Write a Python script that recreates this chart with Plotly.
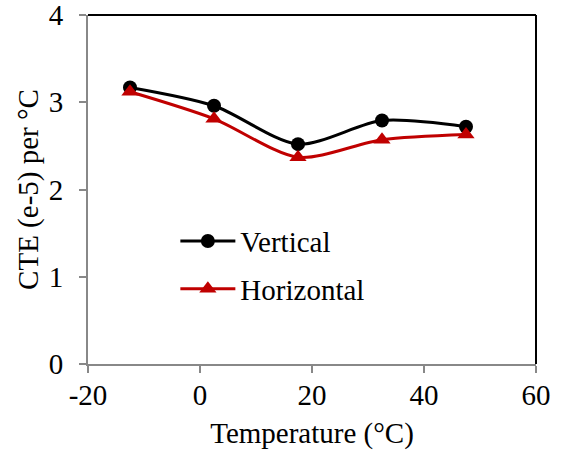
import plotly.graph_objects as go

temps = [-12.5, 2.5, 17.5, 32.5, 47.5]
vertical = [3.17, 2.96, 2.52, 2.79, 2.72]
horizontal = [3.12, 2.81, 2.37, 2.57, 2.63]
x_ticks = [-20, 0, 20, 40, 60]
x_ticktext = ["-20", "0", "20", "40", "60"]
y_ticks = [0, 1, 2, 3, 4]

FONT = "Liberation Serif, Times New Roman, serif"

fig = go.Figure()
fig.add_trace(go.Scatter(
    x=temps, y=vertical, name="Vertical", mode="lines+markers", legendgroup="v",
    line=dict(color="black", width=3, shape="spline", smoothing=0.8),
    marker=dict(symbol="circle", size=14, color="black"),
))
fig.add_trace(go.Scatter(
    x=temps, y=horizontal, name="Horizontal", mode="lines+markers", legendgroup="h",
    line=dict(color="#C00000", width=3, shape="spline", smoothing=0.8),
    marker=dict(symbol="triangle-up", size=15, color="#C00000"),
))

axis_common = dict(
    showgrid=False, zeroline=False, showline=True, linecolor="#888888", linewidth=2,
    ticks="outside", ticklen=7, tickwidth=2, tickcolor="#888888",
    tickfont=dict(family=FONT, size=29, color="black"),
    ticklabeloverflow="allow", automargin=False,
)

fig.update_layout(
    width=561, height=452,
    margin=dict(l=88, r=25, t=15, b=88),
    paper_bgcolor="white", plot_bgcolor="white",
    font=dict(family=FONT, size=29, color="black"),
    xaxis=dict(range=[-20, 60], tickvals=x_ticks, ticktext=x_ticktext,
               ticklabelstandoff=-3,
               title=dict(text="Temperature (°C)", font=dict(family=FONT, size=29), standoff=13),
               **axis_common),
    yaxis=dict(range=[0, 4], tickvals=y_ticks, ticklabelstandoff=10,
               title=dict(text="CTE (e-5) per °C", font=dict(family=FONT, size=29), standoff=2),
               **axis_common),
    legend=dict(x=0.195, y=0.425, xanchor="left", yanchor="top",
                bgcolor="rgba(0,0,0,0)", font=dict(family=FONT, size=29),
                itemwidth=55, tracegroupgap=7),
    shapes=[
        dict(type="line", xref="paper", yref="paper", x0=0, x1=1, y0=1, y1=1,
             line=dict(color="black", width=2)),
        dict(type="line", xref="paper", yref="paper", x0=1, x1=1, y0=0, y1=1,
             line=dict(color="black", width=2)),
    ],
)

fig.write_html("out.html")
